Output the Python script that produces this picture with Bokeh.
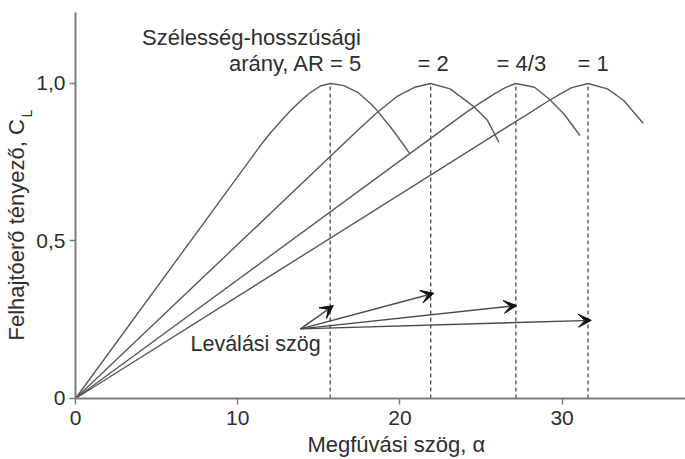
import math
from bokeh.plotting import figure
from bokeh.models import Label, Arrow, VeeHead, FixedTicker, Range1d
from bokeh.embed import file_html
from bokeh.resources import INLINE

# ---- data ----
aspect_labels = ["arány, AR = 5", "= 2", "= 4/3", "= 1"]
stall_alpha = [15.7, 21.9, 27.15, 31.6]
stall_cl = [1.0, 1.0, 1.0, 1.0]

alpha_ar5 = [0, 11.4, 12.0, 12.6, 13.2, 13.9, 14.5, 15.1, 15.7, 16.5, 17.4, 18.2, 18.6, 19.6, 20.6]
cl_ar5 = [0, 0.803, 0.842, 0.877, 0.911, 0.946, 0.972, 0.992, 1.0, 0.994, 0.972, 0.936, 0.914, 0.85, 0.778]

alpha_ar2 = [0, 17.5, 18.6, 19.8, 20.9, 21.9, 23.1, 24.5, 25.4, 26.1]
cl_ar2 = [0, 0.856, 0.908, 0.958, 0.988, 1.0, 0.983, 0.929, 0.883, 0.814]

alpha_ar43 = [0, 24.0, 25.0, 25.8, 26.5, 27.15, 28.3, 29.2, 30.1, 31.1]
cl_ar43 = [0, 0.905, 0.94, 0.966, 0.987, 1.0, 0.988, 0.951, 0.904, 0.835]

alpha_ar1 = [0, 28.0, 29.2, 29.9, 30.6, 31.6, 32.8, 33.8, 35.0]
cl_ar1 = [0, 0.907, 0.946, 0.967, 0.987, 1.0, 0.983, 0.946, 0.874]

arrow_start = (13.87, 0.221)
arrow_end_alpha = [15.9, 22.1, 27.2, 31.8]
arrow_end_cl = [0.295, 0.334, 0.295, 0.248]

x_ticks = [0, 10, 20, 30]
y_ticks = [0, 0.5, 1.0]
y_tick_labels = {0: "0", 0.5: "0,5", 1.0: "1,0"}

FONT = "Liberation Sans"
TXT = "#2e2e2e"
LINE = "#5a5a5a"
AXIS = "#7c7c7c"

X_MAX = 37.6
Y_MAX = 1.2254

p = figure(width=685, height=459, output_backend="svg", toolbar_location=None,
           x_range=Range1d(-4.624, 37.608), y_range=Range1d(-0.1937, 1.2635),
           min_border_left=0, min_border_right=0, min_border_top=0, min_border_bottom=0)
p.outline_line_color = None
p.xgrid.visible = False
p.ygrid.visible = False
p.background_fill_color = "white"
p.border_fill_color = "white"

p.xaxis.fixed_location = 0
p.yaxis.fixed_location = 0
p.xaxis.bounds = (0, X_MAX)
p.yaxis.bounds = (0, Y_MAX)

for ax in (p.xaxis[0], p.yaxis[0]):
    ax.axis_line_color = AXIS
    ax.axis_line_width = 2
    ax.major_tick_line_color = AXIS
    ax.major_tick_line_width = 1.5
    ax.major_tick_out = 6
    ax.major_tick_in = 0
    ax.minor_tick_line_color = None
    ax.major_label_text_font = FONT
    ax.major_label_text_font_size = "21px"
    ax.major_label_text_color = TXT
    ax.major_label_standoff = 4
p.xaxis.major_label_standoff = 7
p.xaxis.ticker = FixedTicker(ticks=x_ticks)
p.yaxis.ticker = FixedTicker(ticks=y_ticks)
p.yaxis.major_label_overrides = y_tick_labels

# dashed stall lines
p.segment(x0=stall_alpha, y0=[0] * 4, x1=stall_alpha, y1=stall_cl,
          line_color="#3a3a3a", line_width=1.2, line_dash="4 3")

# lift curves
for xs, ys in [(alpha_ar5, cl_ar5), (alpha_ar2, cl_ar2), (alpha_ar43, cl_ar43), (alpha_ar1, cl_ar1)]:
    p.line(xs, ys, line_color=LINE, line_width=1.4, line_join="round")

# arrows
for ex, ey in zip(arrow_end_alpha, arrow_end_cl):
    p.add_layout(Arrow(x_start=arrow_start[0], y_start=arrow_start[1], x_end=ex, y_end=ey,
                       line_color="#4a4a4a", line_width=1.4,
                       end=VeeHead(size=13, fill_color="#111111", line_color="#111111", line_width=1)))

def lab(x, y, text, align="left", size="22px", angle=0.0, baseline="alphabetic"):
    p.add_layout(Label(x=x, y=y, text=text, text_font=FONT, text_font_size=size,
                       text_color=TXT, text_align=align, text_baseline=baseline, angle=angle))

lab(10.85, 1.145, "Szélesség-hosszúsági", align="center")
lab(17.69, 1.064, aspect_labels[0], align="right")
lab(21.08, 1.064, aspect_labels[1])
lab(25.96, 1.064, aspect_labels[2])
lab(30.95, 1.064, aspect_labels[3])
lab(7.09, 0.173, "Leválási szög", size="21.5px")

# axis titles
lab(14.3, -0.147, "Megfúvási szög, α")
lab(-3.64, 0.184, "Felhajtóerő tényező, C", angle=math.pi / 2)
lab(-3.02, 0.892, "L", size="14px", angle=math.pi / 2)

open("out.html", "w").write(file_html(p, INLINE))
